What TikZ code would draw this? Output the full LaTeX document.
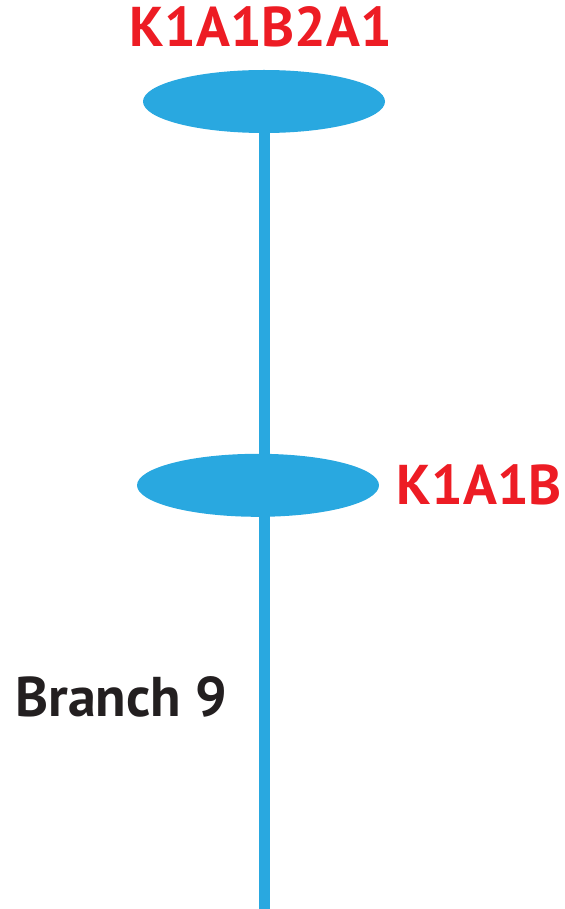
\documentclass[tikz,border=0pt]{standalone}
\usepackage{fontspec}
\usepackage{xcolor}
\usepackage{tikz}
\usetikzlibrary{positioning}
\usetikzlibrary{shapes}
\newfontfamily\branchfont{PT Sans}
\definecolor{nodeblue}{HTML}{29A8E0}
\definecolor{labelred}{HTML}{ED1C24}
\definecolor{labelblack}{HTML}{231F20}

\begin{document}
\begin{tikzpicture}[node distance=1cm and 1.5cm,
  taxon/.style={ellipse, fill=nodeblue, draw=none, inner sep=0pt, minimum width=121pt, minimum height=31.5pt},
  stem/.style={nodeblue, line width=5.5pt},
  redlbl/.style={inner sep=0pt, text=labelred, font=\branchfont\bfseries\fontsize{28}{30}\selectfont},
  blacklbl/.style={inner sep=0pt, text=labelblack, font=\branchfont\bfseries\fontsize{28}{30}\selectfont}]
\useasboundingbox (0,0) rectangle (282.5pt,-454.5pt);
\node[taxon] (top) at (132pt,-50.75pt) {};
\node[taxon, below=160pt of top, xshift=-3pt] (mid) {};
\coordinate (bot) at (132.25pt,-456pt);
\coordinate (brpos) at (7.5pt,-358pt);
%%%%%%%%%%%%%%%%%%%%%%%%%%%%%%%%%%%%%
\node[redlbl, above=11.5pt of top.north, anchor=base, xshift=-1.5pt] (toplbl) {K1A1B2A1};
\node[redlbl, right=8.5pt of mid.east, anchor=base west, yshift=-9.75pt] (midlbl) {K1A1B};
\node[blacklbl, anchor=base west] (brlbl) at (brpos) {Branch 9};
%%%%%%%%%%%%%%%%%%%%%%%%%%%%%%%%%%%%%
\draw[stem] (top.south) -- (top.south |- bot);
\end{tikzpicture}
\end{document}
